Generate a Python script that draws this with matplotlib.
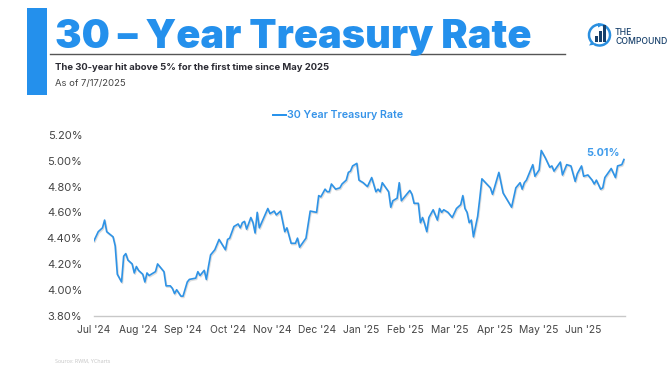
import matplotlib
matplotlib.use("Agg")
import matplotlib.pyplot as plt
from matplotlib.patches import Rectangle, Arc, Polygon
import matplotlib.patheffects as pe

trading_day = [0,2,4,5,6,9,10,11,13,14,15,16,18,19,20,21,23,24,25,26,27,29,30,33,34,36,37,38,39,41,42,44,45,48,49,50,52,53,54,55,57,59,62,63,64,66,68,69,70,71,72,74,75,76,77,78,82,83,85,86,88,90,91,93,95,96,97,100,102,105,106,107,109,110,111,112,114,116,117,119,120,121,
122,124,125,127,129,131,133,134,135,136,139,140,141,143,144,145,149,150,151,153,154,155,156,157,158,160,162,163,164,165,167,169,171,173,174,175,176,177,178,179,181,182,183,187,188,191,193,197,199,201,202,203,204,207,208,210,211,213,215,216,217,220,221,223,225,227,228,230,231,233,235,236,237,239,240,241,244,246,247,249,250]
rate = [4.38,4.45,4.48,4.54,4.45,4.41,4.34,4.12,4.06,4.26,4.28,4.23,4.20,4.13,4.18,4.15,4.12,4.06,4.13,4.11,4.12,4.14,4.20,4.14,4.03,4.03,4.01,3.97,4.00,3.95,3.95,4.06,4.08,4.09,4.14,4.11,4.15,4.08,4.18,4.27,4.31,4.39,4.31,4.39,4.40,4.49,4.51,4.48,4.52,4.53,4.47,4.56,4.52,4.44,4.60,4.48,4.63,4.59,4.61,4.58,4.61,4.45,4.48,4.36,4.36,4.40,4.33,4.40,4.61,4.60,4.73,4.72,4.78,4.76,4.76,4.82,4.78,4.79,4.82,4.85,4.91,4.92,
4.96,4.98,4.85,4.83,4.80,4.87,4.76,4.78,4.76,4.83,4.76,4.64,4.69,4.71,4.83,4.69,4.77,4.74,4.67,4.67,4.52,4.56,4.51,4.45,4.56,4.62,4.54,4.63,4.60,4.62,4.60,4.56,4.63,4.66,4.73,4.63,4.60,4.52,4.54,4.41,4.57,4.71,4.86,4.79,4.74,4.91,4.75,4.64,4.79,4.83,4.78,4.83,4.85,4.97,4.88,4.93,5.08,5.02,4.95,4.96,4.92,4.99,4.89,4.97,4.96,4.84,4.90,4.96,4.88,4.89,4.85,4.82,4.85,4.78,4.79,4.87,4.94,4.87,4.96,4.97,5.01]
month_labels = ["Jul '24","Aug '24","Sep '24","Oct '24","Nov '24","Dec '24","Jan '25","Feb '25","Mar '25","Apr '25","May '25","Jun '25"]
y_ticks = [3.8,4.0,4.2,4.4,4.6,4.8,5.0,5.2]
logo_bars = [0.35,0.6,1.0]

W, H = 672, 367
BLUE = "#2490EC"
fig = plt.figure(figsize=(W/100, H/100), dpi=100, facecolor="white")
ov = fig.add_axes([0, 0, 1, 1])
ov.set_xlim(0, W); ov.set_ylim(H, 0); ov.axis("off")

ov.add_patch(Rectangle((27, 7.5), 20, 87, color=BLUE, lw=0))
ov.plot([50, 565], [54, 54], color="#555555", lw=1)
ov.text(55, 48, "30 – Year Treasury Rate", color=BLUE, family="Inter", weight="black",
        fontsize=28.6, va="baseline", ha="left")
ov.text(55, 69.5, "The 30-year hit above 5% for the first time since May 2025", color="#2b2b33",
        family="Inter", weight="bold", fontsize=6.83, va="baseline")
ov.text(55, 86, "As of 7/17/2025", color="#444444", family="Inter", fontsize=6.85, va="baseline")

# logo
NAVY = "#17406B"
ov.add_patch(Arc((599.5, 35), 21, 21, theta1=-225, theta2=120, color="#2A8FE0", lw=1.8))
ov.add_patch(Polygon([[592, 41], [589, 45.5], [596, 44.5]], color="#2A8FE0", lw=0))
ov.add_patch(Polygon([[598, 23], [603, 25], [598, 27.5]], color="#2A8FE0", lw=0))
for i, b in enumerate(logo_bars):
    ov.add_patch(Rectangle((595 + i*4, 41.5 - 17*b), 2.6, 17*b, color=NAVY, lw=0))
ov.text(615, 35, "THE", color=NAVY, family="Inter", weight="medium", fontsize=6.2, va="baseline")
ov.text(615, 44, "COMPOUND", color=NAVY, family="Inter", weight="medium", fontsize=6.2, va="baseline")

# legend
ov.plot([272.5, 286], [115, 115], color=BLUE, lw=1.4)
ov.text(287, 115, "30 Year Treasury Rate", color="#3593E8", family="Inter", weight="semibold",
        fontsize=7.7, va="center")

# source
ov.text(55, 361.5, "Source: RWM, YCharts", color="#c4c4c4", family="Open Sans", fontsize=3.9, va="center")

# chart
x0, x1, ytop, ybot = 94, 625, 135, 315.5
ax = fig.add_axes([x0/W, 1-ybot/H, (x1-x0)/W, (ybot-ytop)/H])
ax.patch.set_alpha(0)
ax.plot(trading_day, rate, color="#2E93E6", lw=1.2, solid_joinstyle="round",
        path_effects=[pe.SimpleLineShadow(offset=(0.6, -0.9), shadow_color="#777777", alpha=0.25), pe.Normal()])
ax.set_xlim(0, 250.5)
ax.set_ylim(3.8, 5.2)
ax.set_yticks(y_ticks)
ax.set_yticklabels([f"{v:.2f}%" for v in y_ticks], color="#444444", family="Inter", fontsize=8)
ax.set_xticks([i*21 for i in range(len(month_labels))])
ax.set_xticklabels(month_labels, color="#444444", family="Inter", fontsize=7.4)
ax.tick_params(length=0, axis="both")
ax.tick_params(axis="x", pad=7)
ax.tick_params(axis="y", pad=8.5)
for sp in ["top", "left", "right"]:
    ax.spines[sp].set_visible(False)
ax.spines["bottom"].set_color("#c8c8c8")
ax.spines["bottom"].set_linewidth(1)
ax.text(248, 5.01 + 0.015, "5.01%", color="#3F9BEB", family="Inter", weight="bold",
        fontsize=7.8, ha="right", va="bottom")

fig.savefig("out.png", dpi=100)
